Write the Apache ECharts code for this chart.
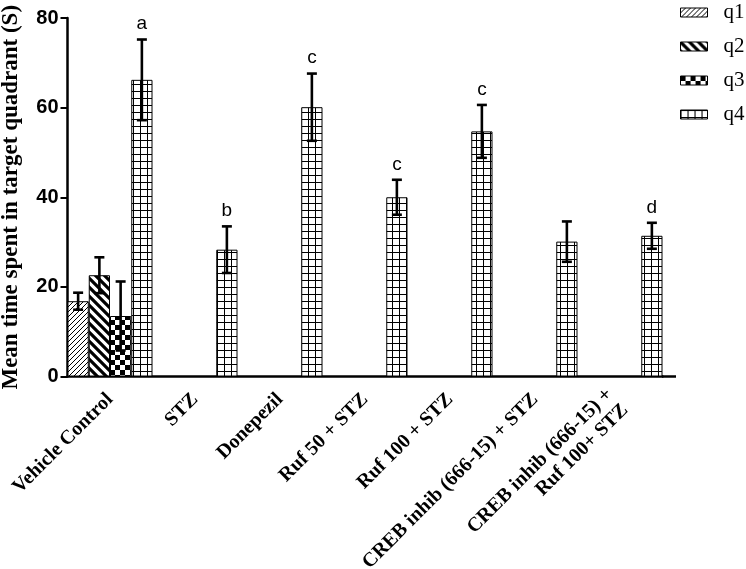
<!DOCTYPE html>
<html>
<head>
<meta charset="utf-8">
<script src="https://cdn.jsdelivr.net/npm/echarts@6/dist/echarts.min.js"></script>
<style>html,body{margin:0;padding:0;background:#fff;}#c{width:746px;height:569px;}</style>
</head>
<body>
<div id="c"></div>
<script>
const categories = ['Vehicle Control','STZ','Donepezil','Ruf 50 + STZ','Ruf 100 + STZ','CREB inhib (666-15) + STZ','CREB inhib (666-15) +\nRuf 100+ STZ'];
const seriesNames = ['q1','q2','q3','q4'];
const q1 = [16.8, null, null, null, null, null, null];
const q2 = [22.6, null, null, null, null, null, null];
const q3 = [13.5, null, null, null, null, null, null];
const q4 = [66.2, 28.3, 60.1, 40.0, 54.7, 30.1, 31.4];
const q1Err = [1.9, null, null, null, null, null, null];
const q2Err = [4.0, null, null, null, null, null, null];
const q3Err = [7.7, null, null, null, null, null, null];
const q4Err = [9.0, 5.2, 7.5, 3.9, 5.9, 4.5, 2.9];
const letters = ['a','b','c','c','c','','d'];
const yTicks = [0, 20, 40, 60, 80];

function makePattern(kind){
  const cv = document.createElement('canvas');
  const ctx = cv.getContext('2d');
  if(kind==='q1'){
    const s=5; cv.width=s; cv.height=s;
    ctx.fillStyle='#fff'; ctx.fillRect(0,0,s,s);
    ctx.strokeStyle='#000'; ctx.lineWidth=1;
    ctx.beginPath();
    ctx.moveTo(-1,s+1); ctx.lineTo(s+1,-1);
    ctx.moveTo(-1,1); ctx.lineTo(1,-1);
    ctx.moveTo(s-1,s+1); ctx.lineTo(s+1,s-1);
    ctx.stroke();
  } else if(kind==='q2'){
    const s=9; cv.width=s; cv.height=s;
    ctx.fillStyle='#fff'; ctx.fillRect(0,0,s,s);
    ctx.strokeStyle='#000'; ctx.lineWidth=3.2;
    ctx.beginPath();
    ctx.moveTo(-2,-2); ctx.lineTo(s+2,s+2);
    ctx.moveTo(-2,s-2); ctx.lineTo(2,s+2);
    ctx.moveTo(s-2,-2); ctx.lineTo(s+2,2);
    ctx.stroke();
  } else if(kind==='q3'){
    const s=10; cv.width=s; cv.height=s;
    ctx.fillStyle='#fff'; ctx.fillRect(0,0,s,s);
    ctx.fillStyle='#000';
    ctx.fillRect(0,0,5,5); ctx.fillRect(5,5,5,5);
  } else {
    const s=7; cv.width=s; cv.height=s;
    ctx.fillStyle='#fff'; ctx.fillRect(0,0,s,s);
    ctx.fillStyle='#000';
    ctx.fillRect(0,0,s,1); ctx.fillRect(0,0,1,s);
  }
  return {image: cv, repeat: 'repeat'};
}

const values = [q1,q2,q3,q4];
const errs = [q1Err,q2Err,q3Err,q4Err];

const barSeries = seriesNames.map((n,i)=>({
  name: n,
  type: 'bar',
  data: values[i],
  barGap: '0%',
  barCategoryGap: '0%',
  itemStyle: {color: makePattern(n), borderColor: '#000', borderWidth: 1},
  emphasis: {disabled: true},
  animation: false,
  z: 2
}));

const errData = [];
for(let s=0;s<4;s++){
  for(let c=0;c<categories.length;c++){
    if(values[s][c]!=null){
      errData.push([c, s, values[s][c], errs[s][c], s===3 ? letters[c] : '']);
    }
  }
}

const errSeries = {
  type: 'custom',
  data: errData,
  encode: {x: 0, y: 2},
  z: 5,
  animation: false,
  silent: true,
  renderItem: function(params, api){
    const ci = api.value(0), slot = api.value(1), v = api.value(2), e = api.value(3);
    const catW = api.size([1,0])[0];
    const cx = api.coord([ci, v])[0] + (slot - 1.5) * catW / 4;
    const yt = api.coord([ci, v + e])[1];
    const yb = api.coord([ci, v - e])[1];
    const cap = 5;
    const st = {stroke: '#000', lineWidth: 2.6};
    const children = [
      {type:'line', shape:{x1:cx,y1:yt,x2:cx,y2:yb}, style:st},
      {type:'line', shape:{x1:cx-cap,y1:yt,x2:cx+cap,y2:yt}, style:st},
      {type:'line', shape:{x1:cx-cap,y1:yb,x2:cx+cap,y2:yb}, style:st}
    ];
    const lab = errData[params.dataIndex][4];
    if(lab){
      children.push({type:'text', style:{text: lab, x: cx, y: yt - 6, align:'center', verticalAlign:'bottom', fill:'#000', font:'19px "Liberation Sans", Arial, sans-serif'}});
    }
    return {type:'group', children: children};
  }
};

const catData = categories.map((c, i) => i === categories.length - 1 ? {value: c, textStyle: {padding: [18, 4, 0, 0]}} : c);

const chart = echarts.init(document.getElementById('c'), null, {renderer:'canvas'});
chart.setOption({
  animation: false,
  backgroundColor: '#fff',
  grid: {left: 67.5, top: 18, width: 595, height: 358.5, containLabel: false, outerBoundsMode: 'none'},
  legend: {
    data: seriesNames,
    orient: 'vertical',
    left: 675,
    top: -3,
    icon: 'rect',
    itemWidth: 27,
    itemHeight: 9,
    itemGap: 13,
    selectedMode: false,
    itemStyle: {borderColor: '#000', borderWidth: 1},
    textStyle: {fontFamily: '"Liberation Serif", "Times New Roman", serif', fontSize: 21, color: '#000', padding: [0,0,0,11], lineHeight: 20}
  },
  xAxis: {
    type: 'category',
    data: catData,
    axisLine: {lineStyle: {color: '#000', width: 2.5}},
    axisTick: {alignWithLabel: true, length: 7, lineStyle: {color:'#000', width: 2}},
    axisLabel: {rotate: 45, interval: 0, margin: 20, color: '#000', fontFamily: '"Liberation Serif", "Times New Roman", serif', fontWeight: 'bold', fontSize: 20, lineHeight: 22}
  },
  yAxis: {
    type: 'value',
    min: 0, max: 80, interval: 20,
    name: 'Mean time spent in target quadrant (S)',
    nameLocation: 'middle',
    nameGap: 45,
    nameTextStyle: {color:'#000', fontFamily: '"Liberation Serif", "Times New Roman", serif', fontWeight: 'bold', fontSize: 23},
    axisLine: {show: true, lineStyle: {color: '#000', width: 2.5}},
    axisTick: {show: true, length: 7, lineStyle: {color:'#000', width: 2}},
    splitLine: {show: false},
    axisLabel: {color: '#000', fontFamily: '"Liberation Sans", Arial, sans-serif', fontWeight: 'bold', fontSize: 20, margin: 9,
      formatter: function(v){ return yTicks.indexOf(v) >= 0 ? String(v) : ''; }}
  },
  graphic: [{type:'line', shape:{x1:662, y1:376.5, x2:676, y2:376.5}, style:{stroke:'#000', lineWidth:2.5}, z: 10}],
  series: barSeries.concat([errSeries])
});
</script>
</body>
</html>
